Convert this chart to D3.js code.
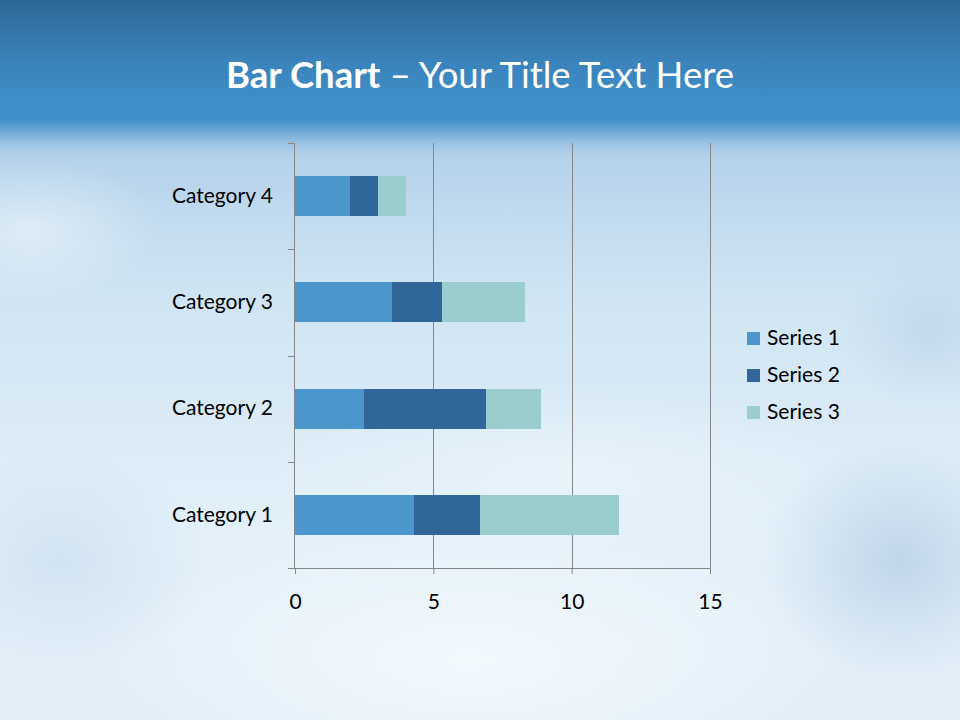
<!DOCTYPE html>
<html>
<head>
<meta charset="utf-8">
<script src="https://cdn.jsdelivr.net/npm/d3@7"></script>
<style>
html,body{margin:0;padding:0;background:#fff;}
svg{display:block;}
</style>
</head>
<body>
<svg id="chart" width="960" height="720"></svg>
<script>
const categories = ["Category 1", "Category 2", "Category 3", "Category 4"];
const seriesNames = ["Series 1", "Series 2", "Series 3"];
const series1 = [4.3, 2.5, 3.5, 2];
const series2 = [2.4, 4.4, 1.8, 1];
const series3 = [5, 2, 3, 1];
const xTicks = [0, 5, 10, 15];
const colors = ["#4b97cd", "#316699", "#9ccdce"];

const W = 960, H = 720;
const FONT = "Lato, 'Open Sans', sans-serif";
const svg = d3.select("#chart");
const defs = svg.append("defs");

// background gradients
const bodyGrad = defs.append("linearGradient").attr("id","bodyGrad").attr("x1",0).attr("y1",0).attr("x2",0).attr("y2",1);
[[0,"#8fbbe0"],[0.2,"#b3d1ea"],[0.4,"#cfe4f3"],[0.75,"#e4f1fa"],[1,"#e2eef8"]].forEach(s=>bodyGrad.append("stop").attr("offset",s[0]).attr("stop-color",s[1]));
const headGrad = defs.append("linearGradient").attr("id","headGrad").attr("x1",0).attr("y1",0).attr("x2",0).attr("y2",1);
[[0,"#2c6896"],[0.5,"#3a82ba"],[0.85,"#3f8fc9"],[1,"#3f8fc9"]].forEach(s=>headGrad.append("stop").attr("offset",s[0]).attr("stop-color",s[1]));
const fadeGrad = defs.append("linearGradient").attr("id","fadeGrad").attr("x1",0).attr("y1",0).attr("x2",0).attr("y2",1);
[[0,"#3f8fc9",1],[0.35,"#6aa5d4",0.85],[1,"#a3c7e5",0]].forEach(s=>fadeGrad.append("stop").attr("offset",s[0]).attr("stop-color",s[1]).attr("stop-opacity",s[2]));
const glow = defs.append("radialGradient").attr("id","glow");
[[0,"#f6fbfe",0.85],[1,"#f6fbfe",0]].forEach(s=>glow.append("stop").attr("offset",s[0]).attr("stop-color",s[1]).attr("stop-opacity",s[2]));
const shade = defs.append("radialGradient").attr("id","shade");
[[0,"#b7cfe6",0.8],[1,"#b7cfe6",0]].forEach(s=>shade.append("stop").attr("offset",s[0]).attr("stop-color",s[1]).attr("stop-opacity",s[2]));

const bg = svg.append("g");
bg.append("rect").attr("width",W).attr("height",H).attr("fill","url(#bodyGrad)");
bg.append("ellipse").attr("cx",470).attr("cy",660).attr("rx",380).attr("ry",140).attr("fill","url(#glow)");
bg.append("ellipse").attr("cx",30).attr("cy",230).attr("rx",130).attr("ry",70).attr("fill","url(#glow)").attr("opacity",0.6);
bg.append("ellipse").attr("cx",560).attr("cy",470).attr("rx",300).attr("ry",80).attr("fill","url(#glow)").attr("opacity",0.5);
bg.append("ellipse").attr("cx",900).attr("cy",560).attr("rx",140).attr("ry",120).attr("fill","url(#shade)");
bg.append("ellipse").attr("cx",60).attr("cy",560).attr("rx",150).attr("ry",110).attr("fill","url(#shade)").attr("opacity",0.5);
bg.append("ellipse").attr("cx",930).attr("cy",330).attr("rx",90).attr("ry",80).attr("fill","url(#shade)").attr("opacity",0.7);
bg.append("rect").attr("width",W).attr("height",120).attr("fill","url(#headGrad)");
bg.append("rect").attr("y",119).attr("width",W).attr("height",40).attr("fill","url(#fadeGrad)");

// title
const title = svg.append("text").attr("x",480).attr("y",88).attr("text-anchor","middle")
  .attr("fill","#ffffff").style("font-family",FONT).style("font-size","36.5px");
title.append("tspan").attr("font-weight","bold").text("Bar Chart");
title.append("tspan").text(" \u2013 Your Title Text Here");

// chart
const m = {left:295, right:710, top:143, bottom:568};
const x = d3.scaleLinear().domain([0,15]).range([m.left, m.right]);
const y = d3.scaleBand().domain(categories).range([m.bottom, m.top]).paddingInner(0.624).paddingOuter(0.312);

const data = categories.map((c,i)=>({cat:c, s0:series1[i], s1:series2[i], s2:series3[i]}));
const stack = d3.stack().keys(["s0","s1","s2"])(data);

const g = svg.append("g");
// gridlines
g.selectAll("line.grid").data(xTicks.slice(1)).join("line").attr("class","grid")
  .attr("x1",d=>Math.round(x(d))+0.5).attr("x2",d=>Math.round(x(d))+0.5).attr("y1",m.top).attr("y2",m.bottom)
  .attr("stroke","#868686").attr("stroke-width",1);

// bars
stack.forEach((layer,k)=>{
  g.append("g").attr("fill",colors[k]).selectAll("rect").data(layer).join("rect")
    .attr("x",d=>x(d[0])).attr("width",d=>x(d[1])-x(d[0]))
    .attr("y",d=>y(d.data.cat)).attr("height",y.bandwidth())
    .attr("shape-rendering","crispEdges");
});

// x axis
const xAxis = d3.axisBottom(x).tickValues(xTicks).tickSize(6).tickPadding(20);
const xg = g.append("g").attr("transform",`translate(0,${m.bottom})`).call(xAxis);
xg.select(".domain").attr("stroke","#868686").attr("d",`M${m.left-7},0.5H${m.right}`);
xg.selectAll(".tick line").attr("stroke","#868686");
xg.selectAll(".tick text").attr("fill","#000").style("font-family",FONT).style("font-size","21px");

// y axis
const yAxis = d3.axisLeft(y).tickSize(0).tickPadding(22);
const yg = g.append("g").attr("transform",`translate(${m.left},0)`).call(yAxis);
yg.select(".domain").attr("stroke","#868686").attr("d",`M-0.5,${m.top}V${m.bottom}`);
yg.selectAll(".tick text").attr("fill","#000").style("font-family",FONT).style("font-size","21px");
// category boundary ticks
const bounds = d3.range(categories.length+1).map(i=>m.bottom - i*y.step());
g.selectAll("line.ytick").data(bounds).join("line").attr("class","ytick")
  .attr("x1",m.left-7).attr("x2",m.left).attr("y1",d=>Math.round(d)+0.5).attr("y2",d=>Math.round(d)+0.5)
  .attr("stroke","#868686");

// legend
const lg = svg.append("g").attr("transform","translate(747,338)");
seriesNames.forEach((s,i)=>{
  const row = lg.append("g").attr("transform",`translate(0,${i*37})`);
  row.append("rect").attr("x",0).attr("y",-6).attr("width",13).attr("height",13).attr("fill",colors[i]);
  row.append("text").attr("x",20).attr("y",0).attr("dy","0.35em").attr("fill","#000")
    .style("font-family",FONT).style("font-size","21px").text(s);
});
</script>
</body>
</html>
